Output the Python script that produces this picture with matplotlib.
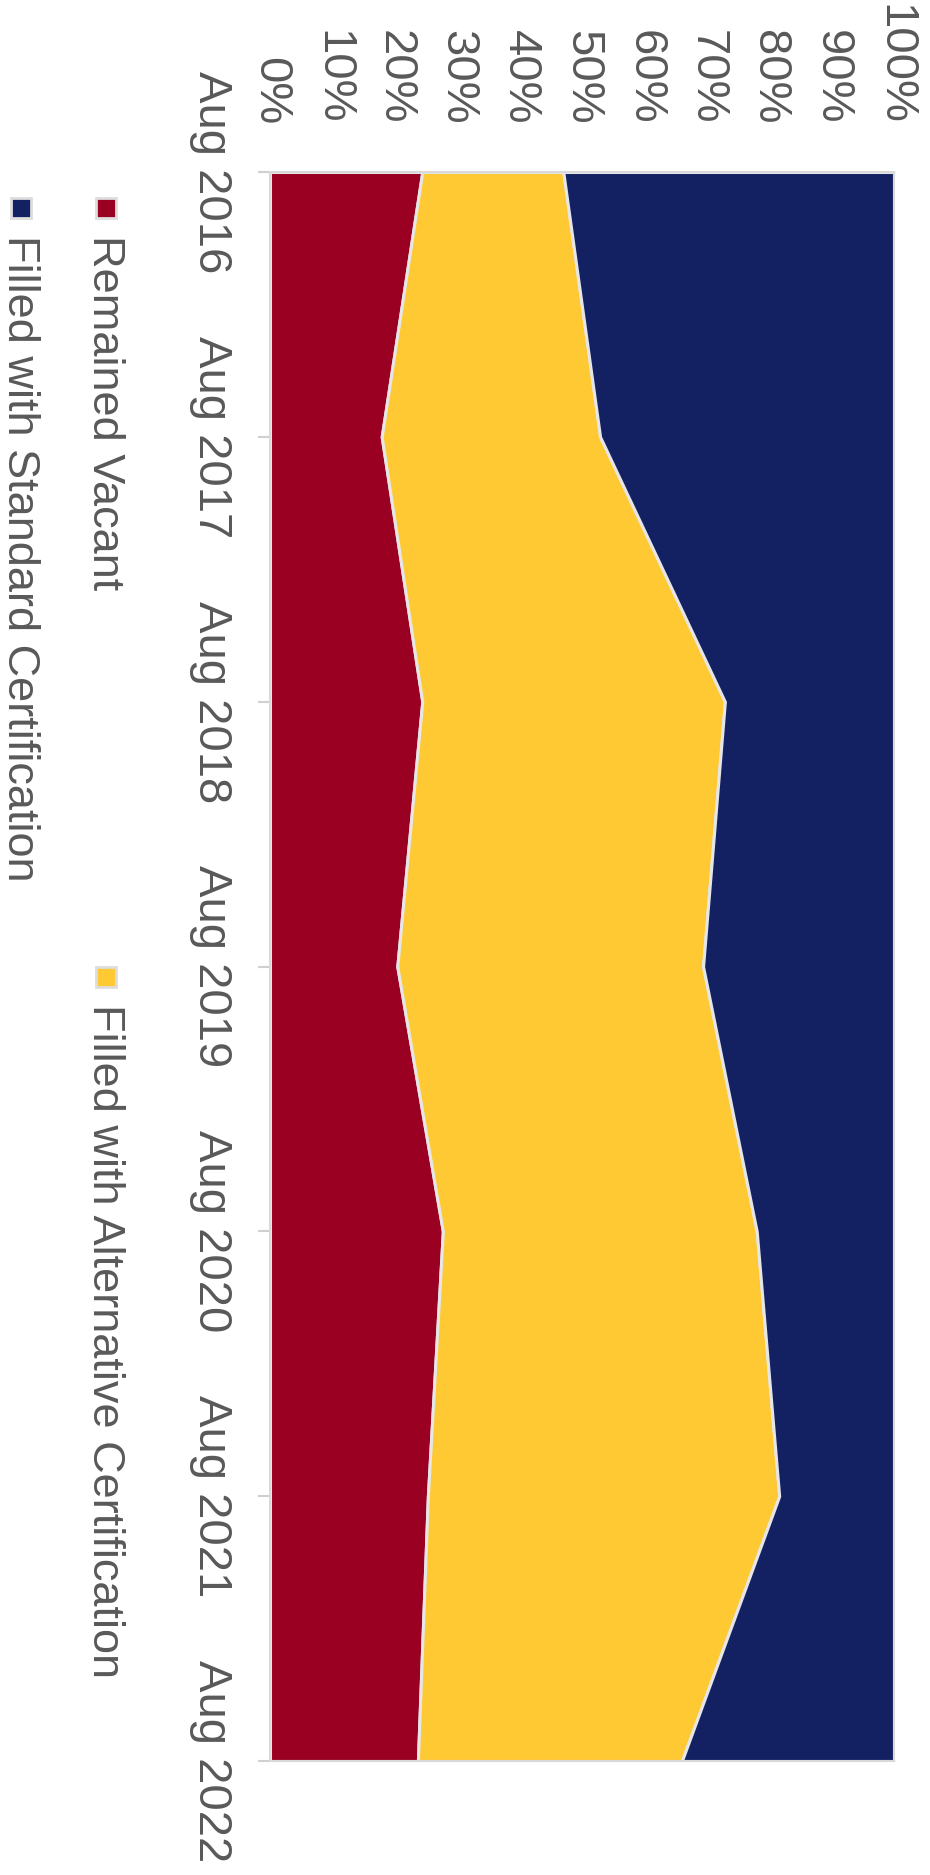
import numpy as np
import matplotlib.pyplot as plt
from matplotlib.patches import Rectangle

plt.rcParams['font.family'] = ['Liberation Sans', 'DejaVu Sans']

# data (percent of positions)
dates = ['Aug 2016', 'Aug 2017', 'Aug 2018', 'Aug 2019', 'Aug 2020', 'Aug 2021', 'Aug 2022']
vacant = [24.4, 17.9, 24.4, 20.4, 27.7, 25.3, 23.7]
alternative = [22.6, 35.0, 48.5, 49.0, 50.3, 56.3, 42.3]
standard = [53.0, 47.1, 27.1, 30.6, 22.0, 18.4, 34.0]

series = ['Remained Vacant', 'Filled with Alternative Certification', 'Filled with Standard Certification']
colors = ['#9a0021', '#fec933', '#132163']

text_color = '#595959'
edge_color = '#e6e6e6'
fs = 34
legend_fs = 32.5

W, H = 930, 1875
fig = plt.figure(figsize=(W / 100, H / 100), dpi=100)
ax = fig.add_axes([270 / W, 1 - 1761 / H, (894 - 270) / W, (1761 - 172) / H])

# stack and normalise to 100 %
vals = np.array([vacant, alternative, standard], dtype=float)
vals = vals / vals.sum(axis=0) * 100
cum = np.vstack([np.zeros(len(dates)), np.cumsum(vals, axis=0)])
y = np.arange(len(dates))

for i in range(3):
    ax.fill_betweenx(y, cum[i], cum[i + 1], facecolor=colors[i],
                     edgecolor=edge_color, linewidth=2.2, zorder=2)

ax.set_xlim(0, 100)
ax.set_ylim(len(dates) - 1, 0)

# percent axis sits on top (chart is turned a quarter clockwise)
ax.xaxis.tick_top()
ax.set_xticks(np.arange(0, 101, 10))
ax.set_xticklabels([f'{v}%' for v in range(0, 101, 10)], rotation=-90,
                   fontsize=fs, color=text_color)
ax.tick_params(axis='x', length=0, pad=34)

ax.set_yticks(y)
ax.set_yticklabels(dates, rotation=-90, fontsize=fs, color=text_color, va='center')
ax.tick_params(axis='y', length=9, width=1.5, color='#d0d0d0', pad=18)

for s in ax.spines.values():
    s.set_color('#d9d9d9')
    s.set_linewidth(1.5)

# legend, drawn by hand so it can be turned like the rest
legend_pos = [(106, 198, 0), (106, 967, 1), (21, 198, 2)]
for cx, ytop, i in legend_pos:
    fig.patches.append(Rectangle(((cx - 10) / W, 1 - (ytop + 20) / H), 20 / W, 20 / H,
                                 transform=fig.transFigure, facecolor=colors[i],
                                 edgecolor='#dddddd', linewidth=2.0))
    fig.text((cx - 13) / W, 1 - (ytop + 37) / H, series[i], rotation=-90,
             rotation_mode='anchor', ha='left', va='baseline',
             fontsize=legend_fs, color=text_color)

fig.savefig('out.png', dpi=100)
